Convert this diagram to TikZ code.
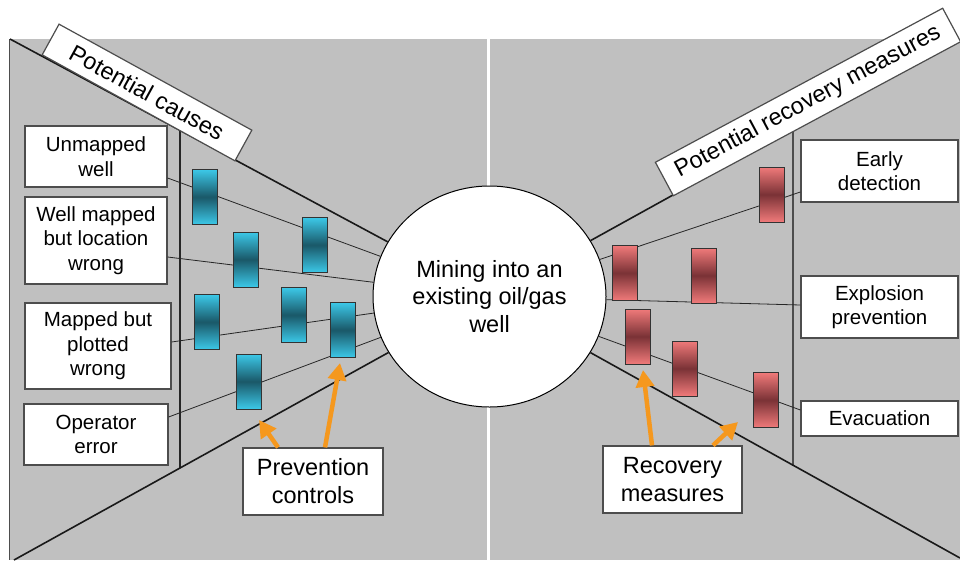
\documentclass[tikz,border=0pt]{standalone}
\usepackage{fontspec}
\setmainfont{Liberation Sans}
\usetikzlibrary{arrows.meta, positioning, shapes.geometric, calc}
\definecolor{panel}{HTML}{C0C0C0}
\definecolor{edge}{HTML}{4D4D4D}
\definecolor{tealhi}{HTML}{3CC8E8}
\definecolor{tealdk}{HTML}{1A5868}
\definecolor{rosehi}{HTML}{F07A7A}
\definecolor{rosedk}{HTML}{7A3236}
\definecolor{amber}{HTML}{F5981E}

\begin{document}
\begin{tikzpicture}[x=1pt, y=-1pt,
  box/.style={draw=edge, fill=white, line width=1.2pt, align=center, inner sep=0pt,
              font=\fontsize{20.5}{24.5}\selectfont},
  tag/.style={box, font=\fontsize{23.5}{28}\selectfont},
  barrier/.style={draw=black!80, line width=0.9pt, minimum width=25pt,
                  minimum height=55pt, inner sep=0pt},
  prevbar/.style={barrier, top color=tealhi, bottom color=tealhi, middle color=tealdk},
  recbar/.style={barrier, top color=rosehi, bottom color=rosehi, middle color=rosedk},
  link/.style={line width=0.8pt, black!85},
  diag/.style={line width=1.6pt, black!90},
  >={Triangle[length=17pt, width=18pt]}
]
\useasboundingbox (0,0) rectangle (960,560);
\fill[white] (0,0) rectangle (960,560);

% the two halves
\fill[panel] (9.5,39) rectangle (487,560);
\fill[panel] (490,39) rectangle (960,560);
\draw[edge, line width=1.2pt] (9.5,39) -- (9.5,560);

\coordinate (ul) at (10,39);
\coordinate (ll) at (14,560);
\coordinate (ur) at (955,39);
\coordinate (lr) at (960,558);

\node[ellipse, draw, fill=white, line width=1pt, minimum width=233pt, minimum height=221pt,
      inner sep=0pt, align=center, font=\fontsize{23.5}{27.5}\selectfont]
  (well) at (489.5,296.5) {Mining into an\\existing oil/gas\\well};

\draw[line width=1.3pt, black!85] (180,130) -- (180,468);
\draw[line width=1.6pt, edge] (793,129) -- (793,466);

% causes
\node[box, minimum width=142pt, minimum height=61pt] (unmap)  at (96,156.5) {Unmapped\\well};
\node[box, minimum width=142pt, minimum height=87pt] (locwrong) at (96,240.5) {Well mapped\\but location\\wrong};
\node[box, minimum width=146pt, minimum height=86pt] (plotwrong) at (98,346) {Mapped but\\plotted\\wrong};
\node[box, minimum width=144pt, minimum height=61pt] (operr)  at (96,434.5) {Operator\\error};

% recovery
\node[box, minimum width=157pt, minimum height=62pt] (early) at (879.5,171) {Early\\detection};
\node[box, minimum width=157pt, minimum height=62pt] (explo) at (879.5,307) {Explosion\\prevention};
\node[box, minimum width=157pt, minimum height=35pt] (evac)  at (879.5,418.5) {Evacuation};

\draw[link] ([yshift=-21.5pt]unmap.east) -- (well);
\draw[link] ([yshift=-16.5pt]locwrong.east) -- (well);
\draw[link] ([yshift=4pt]plotwrong.east) -- (well);
\draw[link] ([yshift=17.5pt]operr.east) -- (well);
\draw[link] ([yshift=-21pt]early.west) -- (well);
\draw[link] ([yshift=2pt]explo.west) -- (well);
\draw[link] ([yshift=8.5pt]evac.west) -- (well);

\draw[diag] (ul) -- (well);
\draw[diag] (ll) -- (well);
\draw[diag] (ur) -- (well);
\draw[diag] (lr) -- (well);

% barriers
\node[prevbar] (b1) at (204.5,197) {};
\node[prevbar] (b2) at (314.5,245) {};
\node[prevbar] (b3) at (245.5,259.5) {};
\node[prevbar] (b4) at (207,322) {};
\node[prevbar] (b5) at (293.5,315) {};
\node[prevbar] (b6) at (342.5,330) {};
\node[prevbar] (b7) at (248.5,381.5) {};

\node[recbar] (r1) at (771.5,194.5) {};
\node[recbar] (r2) at (624.5,273) {};
\node[recbar] (r3) at (703.5,275.5) {};
\node[recbar] (r4) at (638,336.5) {};
\node[recbar] (r5) at (685,368.5) {};
\node[recbar] (r6) at (766,400) {};

\node[tag, minimum width=220pt, minimum height=35pt, rotate=-28.8] (causes) at (147,92.5) {Potential causes};
\node[tag, minimum width=326pt, minimum height=38pt, rotate=28.2] (measures) at (808,102) {Potential recovery measures};

% pointers
\node[tag, minimum width=140pt, minimum height=67pt] (prev) at (313,481.5) {Prevention\\controls};
\node[tag, minimum width=139pt, minimum height=67pt] (recov) at (672.5,479.5) {Recovery\\measures};

\coordinate (tipa) at (259,420);
\coordinate (tipb) at (340,363);
\coordinate (tipc) at (643,370);
\coordinate (tipd) at (738,422);
\draw[->, amber, line width=4.5pt] ([xshift=-35pt]prev.north) -- (tipa);
\draw[->, amber, line width=4.5pt] ([xshift=12pt]prev.north) -- (tipb);
\draw[->, amber, line width=4.5pt] ([xshift=-20.5pt]recov.north) -- (tipc);
\draw[->, amber, line width=4.5pt] ([xshift=40.5pt]recov.north) -- (tipd);
\end{tikzpicture}
\end{document}
